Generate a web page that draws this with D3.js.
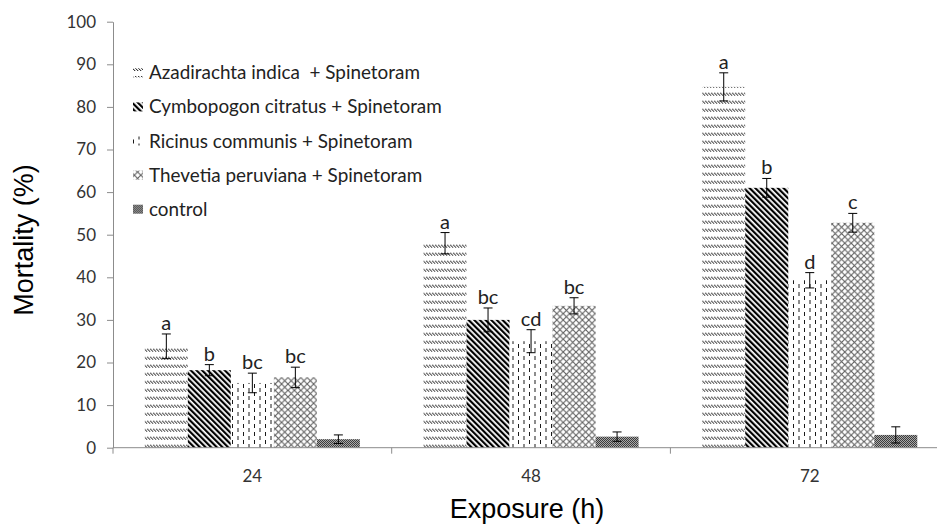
<!DOCTYPE html>
<html>
<head>
<meta charset="utf-8">
<script src="https://cdn.jsdelivr.net/npm/d3@7"></script>
<style>
  html, body { margin: 0; padding: 0; background: #fff; }
  svg { display: block; }
</style>
</head>
<body>
<svg id="chart" width="937" height="524"></svg>
<script>
// ---- data ----
const groups = ["24", "48", "72"];
const series = [
  "Azadirachta indica  + Spinetoram",
  "Cymbopogon citratus + Spinetoram",
  "Ricinus communis + Spinetoram",
  "Thevetia peruviana + Spinetoram",
  "control"
];
const azadirachta = [23.8, 48.0, 84.7];
const cymbopogon  = [18.2, 30.0, 61.0];
const ricinus     = [15.2, 25.0, 39.3];
const thevetia    = [16.5, 33.3, 52.8];
const control     = [2.0, 2.6, 3.0];
const azadirachtaErr = [2.9, 2.5, 3.3];
const cymbopogonErr  = [1.3, 2.8, 2.2];
const ricinusErr     = [2.3, 2.7, 1.8];
const thevetiaErr    = [2.4, 1.9, 2.2];
const controlErr     = [1.0, 1.1, 1.9];
const azadirachtaLetters = ["a", "a", "a"];
const cymbopogonLetters  = ["b", "bc", "b"];
const ricinusLetters     = ["bc", "cd", "d"];
const thevetiaLetters    = ["bc", "bc", "c"];
const controlLetters     = ["", "", ""];
const yTicks = [0, 10, 20, 30, 40, 50, 60, 70, 80, 90, 100];
const yTitle = "Mortality (%)";
const xTitle = "Exposure (h)";

const values = [azadirachta, cymbopogon, ricinus, thevetia, control];
const errors = [azadirachtaErr, cymbopogonErr, ricinusErr, thevetiaErr, controlErr];
const letters = [azadirachtaLetters, cymbopogonLetters, ricinusLetters, thevetiaLetters, controlLetters];
const patternIds = ["pA", "pC", "pR", "pT", "pK"];

// ---- layout ----
const svg = d3.select("#chart");
const x0Left = 113, plotTop = 21.7, plotBottom = 447.7;
const groupW = 278.7;
const x0 = d3.scaleBand().domain(groups).range([x0Left, x0Left + groupW * groups.length]).padding(0);
const x1 = d3.scaleBand().domain(series).range([0, x0.bandwidth()]).paddingInner(0).paddingOuter(0.74);
const y = d3.scaleLinear().domain([0, 100]).range([plotBottom, plotTop]);

// ---- patterns ----
const defs = svg.append("defs");
// Azadirachta: rows of short backslash dashes (pixel steps)
let p = defs.append("pattern").attr("id", "pA").attr("patternUnits", "userSpaceOnUse")
  .attr("width", 3).attr("height", 8).attr("y", 0.7);
p.append("rect").attr("width", 3).attr("height", 8).attr("fill", "#fff");
[[0, 4], [1, 5], [2, 6]].forEach(([px, py]) =>
  p.append("rect").attr("x", px).attr("y", py).attr("width", 1).attr("height", 1).attr("fill", "#3a3a3a"));
[[1, 4], [2, 5], [0, 6]].forEach(([px, py]) =>
  p.append("rect").attr("x", px).attr("y", py).attr("width", 1).attr("height", 1).attr("fill", "#c8c8c8"));
// Cymbopogon: wide downward diagonal
p = defs.append("pattern").attr("id", "pC").attr("patternUnits", "userSpaceOnUse")
  .attr("width", 4).attr("height", 10).attr("patternTransform", "rotate(-45)");
p.append("rect").attr("width", 4).attr("height", 10).attr("fill", "#fff");
p.append("rect").attr("width", 2.2).attr("height", 10).attr("fill", "#000");
// Ricinus: staggered vertical dashes
p = defs.append("pattern").attr("id", "pR").attr("patternUnits", "userSpaceOnUse")
  .attr("width", 11).attr("height", 8);
p.append("rect").attr("width", 11).attr("height", 8).attr("fill", "#fff");
p.append("rect").attr("x", 1).attr("y", 0).attr("width", 1).attr("height", 4).attr("fill", "#1a1a1a");
p.append("rect").attr("x", 6.5).attr("y", 4).attr("width", 1).attr("height", 4).attr("fill", "#1a1a1a");
// Thevetia: diagonal grid
p = defs.append("pattern").attr("id", "pT").attr("patternUnits", "userSpaceOnUse")
  .attr("width", 6.4).attr("height", 6.4);
p.append("rect").attr("width", 6.4).attr("height", 6.4).attr("fill", "#fff");
p.append("path").attr("d", "M0,0 L6.4,6.4 M6.4,0 L0,6.4")
  .attr("stroke", "#5e5e5e").attr("stroke-width", 1.1);
// control: fine checker
p = defs.append("pattern").attr("id", "pK").attr("patternUnits", "userSpaceOnUse")
  .attr("width", 2).attr("height", 2);
p.append("rect").attr("width", 2).attr("height", 2).attr("fill", "#a8a8a8");
p.append("rect").attr("width", 1).attr("height", 1).attr("fill", "#3c3c3c");
p.append("rect").attr("x", 1).attr("y", 1).attr("width", 1).attr("height", 1).attr("fill", "#3c3c3c");

// ---- axes ----
const axisColor = "#8c8c8c";
const yAxis = svg.append("g").attr("transform", `translate(${x0Left},0)`)
  .call(d3.axisLeft(y).tickValues(yTicks).tickSize(6).tickSizeOuter(0).tickPadding(11));
yAxis.select(".domain").attr("stroke", axisColor);
yAxis.selectAll(".tick line").attr("stroke", axisColor);
yAxis.selectAll(".tick text").attr("font-family", "Lato, 'Open Sans', sans-serif")
  .attr("font-size", 17).attr("fill", "#333");

// ---- bars ----
const data = [];
groups.forEach((g, gi) => series.forEach((s, si) => {
  data.push({ g, s, si, v: values[si][gi], e: errors[si][gi], l: letters[si][gi] });
}));

const bars = svg.append("g");
bars.selectAll("rect").data(data).enter().append("rect")
  .attr("x", d => x0(d.g) + x1(d.s))
  .attr("y", d => y(d.v))
  .attr("width", x1.bandwidth())
  .attr("height", d => y(0) - y(d.v))
  .attr("fill", d => `url(#${patternIds[d.si]})`);

// x axis (drawn after bars)
const xAxisG = svg.append("g");
xAxisG.append("line").attr("x1", x0Left).attr("x2", x0.range()[1])
  .attr("y1", y(0)).attr("y2", y(0)).attr("stroke", axisColor);
const seps = groups.map(g => x0(g)).concat([x0.range()[1]]);
xAxisG.selectAll("line.sep").data(seps).enter().append("line").attr("class", "sep")
  .attr("x1", d => d).attr("x2", d => d).attr("y1", y(0)).attr("y2", y(0) + 6)
  .attr("stroke", axisColor);
xAxisG.selectAll("text").data(groups).enter().append("text")
  .attr("x", d => x0(d) + x0.bandwidth() / 2).attr("y", 481.5)
  .attr("text-anchor", "middle").attr("font-family", "Lato, 'Open Sans', sans-serif")
  .attr("font-size", 17).attr("fill", "#333").text(d => d);

// ---- error bars ----
const eb = svg.append("g").attr("stroke", "#000").attr("stroke-width", 1);
const cx = d => x0(d.g) + x1(d.s) + x1.bandwidth() / 2;
eb.selectAll("path").data(data).enter().append("path")
  .attr("fill", "none")
  .attr("d", d => {
    const c = cx(d), t = y(d.v + d.e), b = y(d.v - d.e);
    return `M${c - 4.5},${t}H${c + 4.5}M${c},${t}V${b}M${c - 4.5},${b}H${c + 4.5}`;
  });

// ---- significance letters ----
svg.append("g").selectAll("text").data(data.filter(d => d.l)).enter().append("text")
  .attr("x", d => cx(d)).attr("y", d => y(d.v + d.e) - 4)
  .attr("text-anchor", "middle").attr("font-family", "Lato, 'Open Sans', sans-serif")
  .attr("font-size", 20).attr("fill", "#222").text(d => d.l);

// ---- legend ----
const legend = svg.append("g");
const legRows = legend.selectAll("g").data(series).enter().append("g")
  .attr("transform", (d, i) => `translate(0, ${79.3 + i * 34.1})`);
legRows.append("rect").attr("x", 133).attr("y", -11).attr("width", 10).attr("height", 9)
  .attr("fill", (d, i) => `url(#${patternIds[i]})`);
const legTexts = legRows.append("text").attr("x", 149).attr("y", 0)
  .attr("font-family", "Lato, 'Open Sans', sans-serif").attr("font-size", 100)
  .attr("fill", "#222").style("white-space", "pre").text(d => d);
// fit the font so the first label spans the same width as in the reference
const w0 = legTexts.nodes()[0].getComputedTextLength();
const legSize = 100 * 271 / w0;
legTexts.attr("font-size", legSize);

// ---- axis titles ----
svg.append("text").attr("transform", "translate(33,240) rotate(-90)")
  .attr("text-anchor", "middle").attr("font-family", "'Liberation Sans', Arial, sans-serif")
  .attr("font-size", 27).attr("fill", "#000").text(yTitle);
svg.append("text").attr("x", 527).attr("y", 518)
  .attr("text-anchor", "middle").attr("font-family", "'Liberation Sans', Arial, sans-serif")
  .attr("font-size", 27).attr("fill", "#000").text(xTitle);
</script>
</body>
</html>
